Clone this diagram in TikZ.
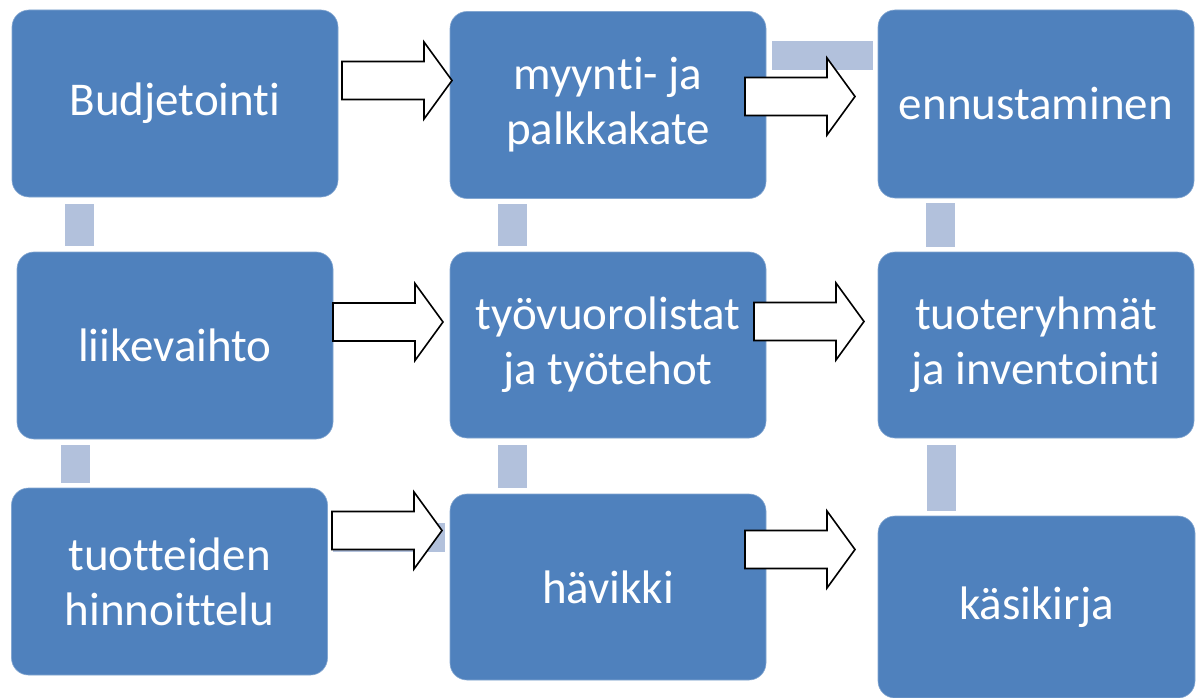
\documentclass[tikz,border=0pt]{standalone}
\usepackage{fontspec}
\setmainfont{Carlito}[Ligatures=NoCommon,RawFeature={-liga}]
\definecolor{boxblue}{HTML}{4F81BD}
\definecolor{connblue}{HTML}{B2C1DC}
\begin{document}
\begin{tikzpicture}[x=1pt,y=-1pt,
  box/.style={rectangle, rounded corners=17pt, fill=boxblue, draw=boxblue!70!white, line width=0.6pt,
    minimum width=316pt, inner sep=0pt, align=center, text=white,
    font=\fontsize{47}{55}\selectfont},
  conn/.style={fill=connblue},
  arrowline/.style={draw=black, fill=white, line width=1.6pt, line join=miter},
  blockarrow/.pic={\draw[arrowline] (0,-19) -- (82,-19) -- (82,-38.5) -- (110,0) -- (82,38.5) -- (82,19) -- (0,19) -- cycle;}
]
\useasboundingbox (0,0) rectangle (1200,698);
\fill[white] (0,0) rectangle (1200,698);
% connectors (background)
\fill[conn] (65,204) rectangle (94,246);
\fill[conn] (61,445) rectangle (90,483);
\fill[conn] (498,204) rectangle (527,246);
\fill[conn] (498,445) rectangle (527,488);
\fill[conn] (926,203) rectangle (955,247);
\fill[conn] (927,445) rectangle (956,511);
\fill[conn] (772,41) rectangle (873,70);
\fill[conn] (333,523) rectangle (445,552);
% boxes
\node[box, minimum width=326pt, minimum height=187pt] (bud) at (175,103.5) {Budjetointi};
\node[box, minimum height=187pt] (myy) at (608,105) {myynti- ja\\palkkakate};
\node[box, minimum height=188pt] (enn) at (1036,104) {ennustaminen};
\node[box, minimum height=187pt] (lii) at (175,345.5) {liikevaihto};
\node[box, minimum height=186pt] (tyo) at (608,345) {työvuorolistat\\ja työtehot};
\node[box, minimum height=186pt] (tuo) at (1036,345) {tuoteryhmät\\ja inventointi};
\node[box, minimum height=187pt] (hin) at (169.5,581.5) {tuotteiden\\hinnoittelu};
\node[box, minimum height=186pt] (hav) at (608,587) {hävikki};
\node[box, minimum width=317pt, minimum height=182pt] (kas) at (1036.5,607) {käsikirja};
% block arrows
\pic at (342,80.5) {blockarrow};
\pic at (745,96.5) {blockarrow};
\pic at (333,322) {blockarrow};
\pic at (754,321.5) {blockarrow};
\pic at (332,530.5) {blockarrow};
\pic at (745,549.5) {blockarrow};
\end{tikzpicture}
\end{document}
